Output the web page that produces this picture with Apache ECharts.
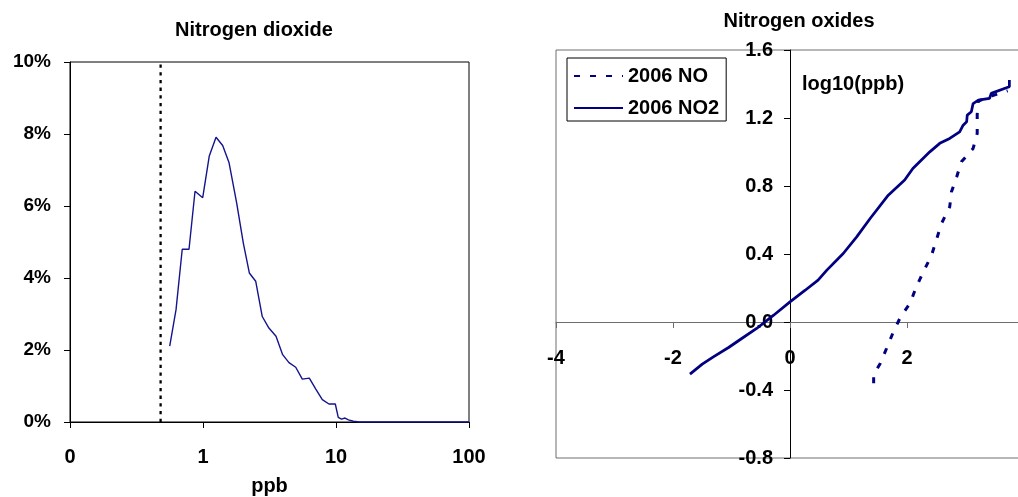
<!DOCTYPE html>
<html>
<head>
<meta charset="utf-8">
<script src="https://cdn.jsdelivr.net/npm/echarts@6/dist/echarts.min.js"></script>
<style>
html,body{margin:0;padding:0;background:#fff;}
#chart{width:1018px;height:497px;}
</style>
</head>
<body>
<div id="chart"></div>
<script>
// ---- Left chart: Nitrogen dioxide frequency distribution ----
const no2BinPpb = [0.562,0.627,0.698,0.785,0.871,0.995,1.115,1.253,1.406,1.568,1.792,2.01,2.23,2.49,2.79,3.13,3.54,3.97,4.43,4.98,5.58,6.30,7.03,7.89,8.85,9.88,10.4,11.0,11.7,12.4,13.5,15,20,30,50,100];
const no2Percent = [2.11,3.12,4.80,4.80,6.41,6.23,7.39,7.91,7.68,7.21,6.08,4.97,4.14,3.91,2.93,2.61,2.38,1.87,1.65,1.52,1.19,1.22,0.92,0.62,0.50,0.50,0.13,0.08,0.11,0.06,0.02,0,0,0,0,0];
const detectionLimitPpb = 0.48;
const leftYRange = [0, 10];

// ---- Right chart: Nitrogen oxides probability plot ----
const noQuantile = [1.43,1.43,1.54,1.65,1.76,1.89,2.05,2.16,2.28,2.42,2.59,2.73,2.76,2.85,2.93,3.13,3.20,3.20,3.22,3.45,3.72];
const noLog10 = [-0.36,-0.31,-0.245,-0.156,-0.064,0.030,0.109,0.207,0.295,0.393,0.580,0.677,0.766,0.854,0.942,1.021,1.109,1.22,1.30,1.33,1.36];
const no2Quantile = [-1.71,-1.50,-1.31,-1.05,-0.85,-0.57,-0.28,0,0.26,0.48,0.63,0.91,1.14,1.37,1.68,1.96,2.10,2.39,2.56,2.73,2.90,2.96,3.02,3.03,3.10,3.13,3.22,3.41,3.44,3.70,3.75,3.75];
const no2Log10 = [-0.307,-0.248,-0.205,-0.150,-0.103,-0.038,0.040,0.118,0.187,0.246,0.305,0.403,0.501,0.609,0.746,0.835,0.903,1.001,1.051,1.080,1.119,1.158,1.178,1.217,1.237,1.285,1.305,1.315,1.345,1.378,1.384,1.423];
const seriesNames = ['2006 NO', '2006 NO2'];
const titles = ['Nitrogen dioxide', 'Nitrogen oxides'];
const rightYLabelName = 'log10(ppb)';
const leftXName = 'ppb';

const zip = (a, b) => a.map((v, i) => [v, b[i]]);
const FONT = 'Liberation Sans, Arial, sans-serif';
const NAVY = '#000080';
const lbl = (size) => ({ fontFamily: FONT, fontWeight: 'bold', fontSize: size, color: '#000' });

// right plot area geometry (px) used to place axes crossing at zero
const R = { left: 556, right: -6, top: 50, bottom: 39 };
const W = 1018, H = 497;
const rW = W - R.left - R.right, rH = H - R.top - R.bottom;
const xMin = -4, xMax = 4, yMin = -0.8, yMax = 1.6;
const yAxisOffset = -((0 - xMin) / (xMax - xMin)) * rW;      // move y axis to x = 0
const xAxisOffset = -((0 - yMin) / (yMax - yMin)) * rH;      // move x axis to y = 0

const chart = echarts.init(document.getElementById('chart'), null, { renderer: 'canvas' });
chart.setOption({
  animation: false,
  backgroundColor: '#fff',
  title: [
    { text: titles[0], left: 249, top: 15, textAlign: 'center', textStyle: lbl(20) },
    { text: titles[1], left: 794, top: 6, textAlign: 'center', textStyle: lbl(20) },
    { text: rightYLabelName, left: 797, top: 69, textStyle: lbl(20) }
  ],
  legend: {
    data: seriesNames,
    orient: 'vertical',
    left: 567, top: 58,
    padding: [8, 7, 3, 6],
    itemGap: 12,
    itemWidth: 49, itemHeight: 14,
    borderColor: '#000', borderWidth: 1,
    itemStyle: { opacity: 0 },
    textStyle: lbl(20),
    selectedMode: false
  },
  grid: [
    { left: 70, right: 549, top: 62, bottom: 75, show: true, borderColor: '#000', borderWidth: 1, backgroundColor: 'transparent', outerBoundsMode: 'none', containLabel: false },
    { left: R.left, right: R.right, top: R.top, bottom: R.bottom, show: true, borderColor: '#6e6e6e', borderWidth: 1, backgroundColor: 'transparent', outerBoundsMode: 'none', containLabel: false }
  ],
  xAxis: [
    {
      gridIndex: 0, type: 'log', logBase: 10, min: 0.1, max: 100,
      name: leftXName, nameLocation: 'middle', nameGap: 54, nameTextStyle: lbl(20),
      axisLine: { lineStyle: { color: '#000', width: 1 } },
      axisTick: { show: true, inside: false, length: 6, lineStyle: { color: '#000' } },
      minorTick: { show: false },
      splitLine: { show: false },
      axisLabel: { margin: 25, ...lbl(20), formatter: v => (v < 0.99 ? '0' : String(Math.round(v))) }
    },
    {
      gridIndex: 1, type: 'value', min: xMin, max: xMax, interval: 2,
      position: 'bottom', offset: xAxisOffset,
      axisLine: { onZero: false, lineStyle: { color: '#6e6e6e', width: 1 } },
      axisTick: { show: true, inside: false, length: 6, lineStyle: { color: '#6e6e6e' } },
      splitLine: { show: false },
      axisLabel: { margin: 26, ...lbl(20), formatter: v => String(Math.round(v)) }
    }
  ],
  yAxis: [
    {
      gridIndex: 0, type: 'value', min: leftYRange[0], max: leftYRange[1], interval: 2,
      axisLine: { show: true, lineStyle: { color: '#000', width: 1 } },
      axisTick: { show: true, inside: false, length: 6, lineStyle: { color: '#000' } },
      splitLine: { show: false },
      axisLabel: { margin: 19, ...lbl(19), formatter: v => Math.round(v) + '%' }
    },
    {
      gridIndex: 1, type: 'value', min: yMin, max: yMax, interval: 0.4,
      position: 'left', offset: yAxisOffset,
      axisLine: { show: true, onZero: false, lineStyle: { color: '#000', width: 1 } },
      axisTick: { show: true, inside: false, length: 6, lineStyle: { color: '#000' } },
      splitLine: { show: false },
      axisLabel: { margin: 17, ...lbl(20), formatter: v => (Math.abs(v) < 1e-9 ? 0 : v).toFixed(1) }
    }
  ],
  series: [
    {
      name: 'NO2 distribution', type: 'line', xAxisIndex: 0, yAxisIndex: 0,
      data: zip(no2BinPpb, no2Percent), showSymbol: false, symbol: 'none',
      lineStyle: { color: '#14148c', width: 1.4 }, itemStyle: { color: '#14148c' }, z: 3
    },
    {
      name: 'detection limit', type: 'line', xAxisIndex: 0, yAxisIndex: 0,
      data: [[detectionLimitPpb, leftYRange[0]], [detectionLimitPpb, leftYRange[1]]],
      showSymbol: false, symbol: 'none',
      lineStyle: { color: '#000', width: 2.3, type: [3.3, 4.4] }, z: 2
    },
    {
      name: seriesNames[0], type: 'line', xAxisIndex: 1, yAxisIndex: 1,
      data: zip(noQuantile, noLog10), showSymbol: false, symbol: 'none',
      lineStyle: { color: NAVY, width: 3, type: [6, 10] }, itemStyle: { color: NAVY }, z: 3
    },
    {
      name: seriesNames[1], type: 'line', xAxisIndex: 1, yAxisIndex: 1,
      data: zip(no2Quantile, no2Log10), showSymbol: false, symbol: 'none',
      lineStyle: { color: NAVY, width: 2.75 }, itemStyle: { color: NAVY }, z: 4
    }
  ]
});
</script>
</body>
</html>
